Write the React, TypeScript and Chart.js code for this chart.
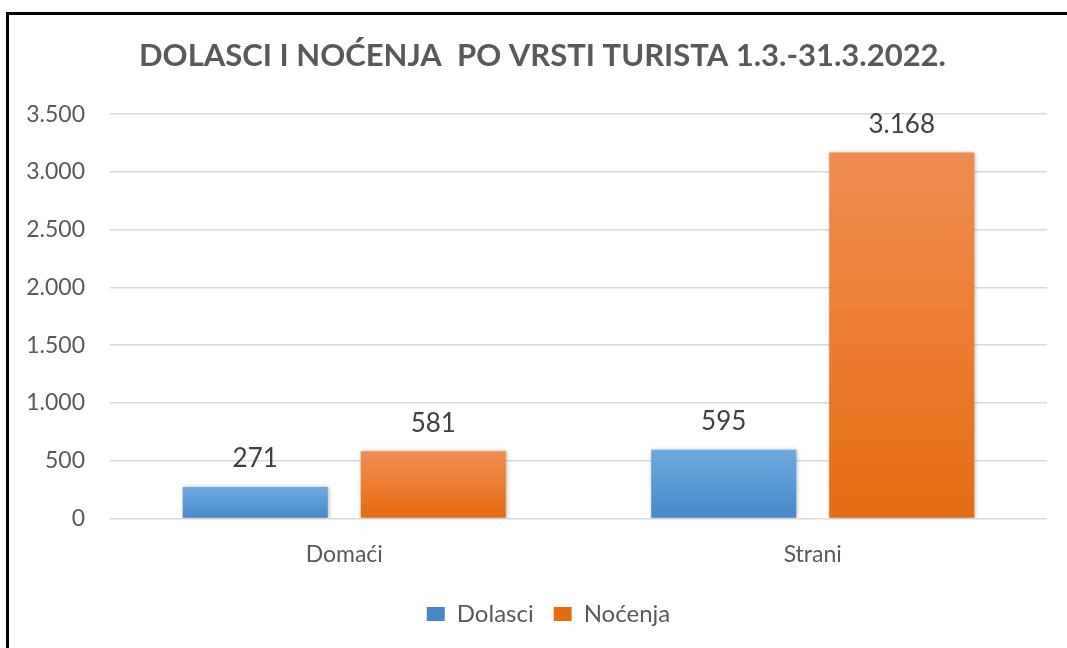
import React, { useEffect, useRef } from "react";
import { Chart, registerables } from "chart.js";

Chart.register(...registerables);

const TITLE = "DOLASCI I NOĆENJA  PO VRSTI TURISTA 1.3.-31.3.2022.";
const categories = ["Domaći", "Strani"];
const seriesNames = ["Dolasci", "Noćenja"];
const dolasci = [271, 595];
const nocenja = [581, 3168];
const yTicks = [0, 500, 1000, 1500, 2000, 2500, 3000, 3500];

const FONT = "Lato, 'Open Sans', sans-serif";

const fmt = (v: number) =>
  Math.round(v)
    .toString()
    .replace(/\B(?=(\d{3})+(?!\d))/g, ".");

const gradFill = (solid: string, top: string, bottom: string) => (ctx: any) => {
  if (ctx.type !== "data") return solid;
  const chart = ctx.chart;
  const y = chart.scales && chart.scales.y;
  if (!y) return solid;
  const t = y.getPixelForValue(ctx.raw);
  const b = y.getPixelForValue(0);
  if (!isFinite(t) || !isFinite(b) || t === b) return solid;
  const g = chart.ctx.createLinearGradient(0, t, 0, b);
  g.addColorStop(0, top);
  g.addColorStop(0.5, solid);
  g.addColorStop(1, bottom);
  return g;
};

const framePlugin = {
  id: "frame",
  beforeDraw(chart: any) {
    const c = chart.ctx;
    c.save();
    c.fillStyle = "#ffffff";
    c.fillRect(0, 0, chart.width, chart.height);
    c.fillStyle = "#000000";
    c.fillRect(6, 12, chart.width - 6, 3);
    c.fillRect(6, 12, 3, chart.height - 12);
    c.restore();
  },
};

// shift title and legend horizontally so they are centred like the reference
const shiftPlugin = {
  id: "shiftBlocks",
  afterLayout(chart: any) {
    if (chart.titleBlock) chart.titleBlock.left += 38;
    if (chart.legend) chart.legend.left += 50;
  },
};

const shadowPlugin = {
  id: "barShadow",
  beforeDatasetsDraw(chart: any) {
    const c = chart.ctx;
    c.save();
    c.shadowColor = "rgba(0,0,0,0.28)";
    c.shadowBlur = 4;
    c.shadowOffsetX = 1;
    c.shadowOffsetY = 0;
  },
  afterDatasetsDraw(chart: any) {
    chart.ctx.restore();
  },
};

const labelPlugin = {
  id: "valueLabels",
  afterDraw(chart: any) {
    const c = chart.ctx;
    c.save();
    c.font = `26px ${FONT}`;
    c.fillStyle = "#404040";
    c.textAlign = "center";
    c.textBaseline = "middle";
    chart.data.datasets.forEach((ds: any, di: number) => {
      const meta = chart.getDatasetMeta(di);
      meta.data.forEach((bar: any, i: number) => {
        c.fillText(fmt(ds.data[i]), bar.x, bar.y - 28);
      });
    });
    c.restore();
  },
};

export default function App() {
  const ref = useRef<HTMLCanvasElement | null>(null);
  useEffect(() => {
    if (!ref.current) return;
    const chart = new Chart(ref.current, {
      type: "bar",
      data: {
        labels: categories,
        datasets: [
          {
            label: seriesNames[0],
            data: dolasci,
            backgroundColor: gradFill("#5b9bd5", "#6ea8de", "#4787c8"),
            borderWidth: 0,
          },
          {
            label: seriesNames[1],
            data: nocenja,
            backgroundColor: gradFill("#ed7d31", "#f08c52", "#e46b12"),
            borderWidth: 0,
          },
        ],
      },
      options: {
        responsive: false,
        animation: false,
        datasets: {
          bar: { categoryPercentage: 0.76, barPercentage: 0.815 },
        },
        layout: { padding: { left: 0, right: 20, top: 0, bottom: 12 } },
        plugins: {
          title: {
            display: true,
            text: TITLE,
            color: "#595959",
            font: { family: FONT, size: 31, weight: "bold" },
            padding: { top: 37, bottom: 40 },
          },
          legend: {
            position: "bottom",
            labels: {
              font: { family: FONT, size: 24 },
              color: "#595959",
              boxWidth: 18,
              boxHeight: 14,
              padding: 20,
            },
          },
          tooltip: { enabled: false },
        },
        scales: {
          x: {
            grid: { display: false },
            border: { display: false },
            ticks: {
              color: "#595959",
              font: { family: FONT, size: 23 },
              padding: 14,
            },
          },
          y: {
            min: 0,
            max: 3500,
            afterBuildTicks: (axis: any) => {
              axis.ticks = yTicks.map((v) => ({ value: v }));
            },
            afterFit: (axis: any) => {
              axis.width = 110;
            },
            grid: { color: "#d9d9d9", lineWidth: 1.5, drawTicks: false },
            border: { display: false },
            ticks: {
              color: "#595959",
              font: { family: FONT, size: 23 },
              padding: 25,
              callback: (v: any) => fmt(Number(v)),
            },
          },
        },
      },
      plugins: [framePlugin, shiftPlugin, shadowPlugin, labelPlugin],
    });
    return () => chart.destroy();
  }, []);
  return (
    <div style={{ position: "fixed", left: 0, top: 0, width: 1067, height: 648, background: "#fff" }}>
      <canvas ref={ref} width={1067} height={648} style={{ display: "block" }} />
    </div>
  );
}
